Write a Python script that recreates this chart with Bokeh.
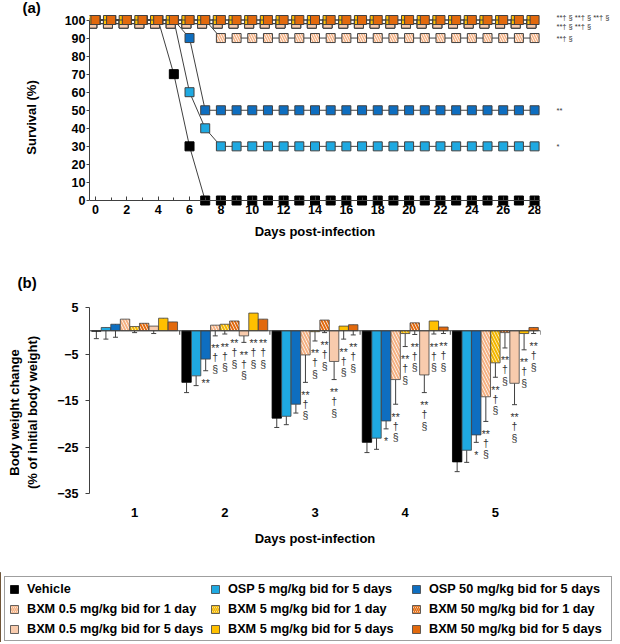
import math
from bokeh.plotting import figure
from bokeh.layouts import column, row
from bokeh.models import (ColumnDataSource, FixedTicker, Whisker, TeeHead, LinearAxis,
                          Legend, LegendItem, Range1d, Span)
from bokeh.transform import dodge
from bokeh.embed import file_html
from bokeh.resources import INLINE

# ---------------- data ----------------
series_labels = [
    "Vehicle",
    "OSP 5 mg/kg bid for 5 days",
    "OSP 50 mg/kg bid for 5 days",
    "BXM 0.5 mg/kg bid for 1 day",
    "BXM 5 mg/kg bid for 1 day",
    "BXM 50 mg/kg bid for 1 day",
    "BXM 0.5 mg/kg bid for 5 days",
    "BXM 5 mg/kg bid for 5 days",
    "BXM 50 mg/kg bid for 5 days",
]

# (a) survival (%) by day post-infection
surv_days = [0, 1, 2, 3, 4, 5, 6, 7, 8, 9, 10, 11, 12, 13, 14, 15, 16, 17, 18, 19,
             20, 21, 22, 23, 24, 25, 26, 27, 28]
surv_ticks = [0, 2, 4, 6, 8, 10, 12, 14, 16, 18, 20, 22, 24, 26, 28]
surv_yticks = [0, 10, 20, 30, 40, 50, 60, 70, 80, 90, 100]
surv_vehicle = [100, 100, 100, 100, 100, 70, 30, 0, 0, 0, 0, 0, 0, 0, 0, 0, 0, 0, 0, 0,
                0, 0, 0, 0, 0, 0, 0, 0, 0]
surv_osp5 = [100, 100, 100, 100, 100, 100, 60, 40, 30, 30, 30, 30, 30, 30, 30, 30, 30, 30,
             30, 30, 30, 30, 30, 30, 30, 30, 30, 30, 30]
surv_osp50 = [100, 100, 100, 100, 100, 100, 90, 50, 50, 50, 50, 50, 50, 50, 50, 50, 50, 50,
              50, 50, 50, 50, 50, 50, 50, 50, 50, 50, 50]
surv_bxm05_1d = [100, 100, 100, 100, 100, 100, 100, 100, 90, 90, 90, 90, 90, 90, 90, 90, 90,
                 90, 90, 90, 90, 90, 90, 90, 90, 90, 90, 90, 90]
surv_bxm5_1d = [100, 100, 100, 100, 100, 100, 100, 100, 100, 100, 100, 100, 100, 100, 100,
                100, 100, 100, 100, 100, 100, 100, 100, 100, 100, 100, 100, 100, 100]
surv_bxm50_1d = [100, 100, 100, 100, 100, 100, 100, 100, 100, 100, 100, 100, 100, 100, 100,
                 100, 100, 100, 100, 100, 100, 100, 100, 100, 100, 100, 100, 100, 100]
surv_bxm05_5d = [100, 100, 100, 100, 100, 100, 100, 100, 100, 100, 100, 100, 100, 100, 100,
                 100, 100, 100, 100, 100, 100, 100, 100, 100, 100, 100, 100, 100, 100]
surv_bxm5_5d = [100, 100, 100, 100, 100, 100, 100, 100, 100, 100, 100, 100, 100, 100, 100,
                100, 100, 100, 100, 100, 100, 100, 100, 100, 100, 100, 100, 100, 100]
surv_bxm50_5d = [100, 100, 100, 100, 100, 100, 100, 100, 100, 100, 100, 100, 100, 100, 100,
                 100, 100, 100, 100, 100, 100, 100, 100, 100, 100, 100, 100, 100, 100]
surv_sig = ["", "*", "**", "**\u2020 \u00a7", "**\u2020 \u00a7", "**\u2020 \u00a7",
            "**\u2020 \u00a7", "**\u2020 \u00a7", "**\u2020 \u00a7"]

# (b) body weight change (% of initial) by day post-infection
bw_days = [1, 2, 3, 4, 5]
bw_yticks = [5, -5, -15, -25, -35]
bw_vehicle = [-0.1, -11.1, -18.8, -24.0, -28.2]
bw_osp5 = [0.7, -9.7, -18.4, -23.1, -25.7]
bw_osp50 = [1.4, -6.1, -15.8, -19.4, -22.4]
bw_bxm05_1d = [2.5, 1.2, -5.2, -10.5, -14.2]
bw_bxm5_1d = [0.9, 1.4, -0.2, -0.6, -6.9]
bw_bxm50_1d = [1.6, 2.1, 2.3, 1.7, -0.4]
bw_bxm05_5d = [1.0, -1.1, -6.6, -9.5, -11.3]
bw_bxm5_5d = [2.7, 3.8, 1.0, 2.1, -0.6]
bw_bxm50_5d = [1.9, 2.5, 1.3, 0.8, 0.7]

bw_vehicle_sd = [1.6, 2.2, 2.0, 2.2, 2.1]
bw_osp5_sd = [2.5, 2.1, 1.8, 2.4, 2.6]
bw_osp50_sd = [2.8, 2.5, 1.9, 1.7, 1.6]
bw_bxm05_1d_sd = [1.5, 2.3, 5.9, 5.3, 5.3]
bw_bxm5_1d_sd = [1.3, 2.1, 2.0, 2.8, 3.1]
bw_bxm50_1d_sd = [1.0, 1.5, 2.7, 2.5, 3.3]
bw_bxm05_5d_sd = [1.6, 1.4, 3.9, 3.8, 4.6]
bw_bxm5_5d_sd = [1.2, 1.5, 2.8, 2.8, 3.5]
bw_bxm50_5d_sd = [1.2, 1.5, 2.2, 1.4, 1.3]

S = "**\u2020\u00a7"
bw_sig_vehicle = ["", "", "", "", ""]
bw_sig_osp5 = ["", "", "", "", ""]
bw_sig_osp50 = ["", "**", "", "*", "*"]
bw_sig_bxm05_1d = ["", S, S, S, S]
bw_sig_bxm5_1d = ["", S, S, S, S]
bw_sig_bxm50_1d = ["", S, S, S, S]
bw_sig_bxm05_5d = ["", S, S, S, S]
bw_sig_bxm5_5d = ["", S, S, S, S]
bw_sig_bxm50_5d = ["", S, S, S, S]

surv_series = [surv_vehicle, surv_osp5, surv_osp50, surv_bxm05_1d, surv_bxm5_1d,
               surv_bxm50_1d, surv_bxm05_5d, surv_bxm5_5d, surv_bxm50_5d]
bw_series = [bw_vehicle, bw_osp5, bw_osp50, bw_bxm05_1d, bw_bxm5_1d, bw_bxm50_1d,
             bw_bxm05_5d, bw_bxm5_5d, bw_bxm50_5d]
bw_sds = [bw_vehicle_sd, bw_osp5_sd, bw_osp50_sd, bw_bxm05_1d_sd, bw_bxm5_1d_sd,
          bw_bxm50_1d_sd, bw_bxm05_5d_sd, bw_bxm5_5d_sd, bw_bxm50_5d_sd]
bw_sigs = [bw_sig_vehicle, bw_sig_osp5, bw_sig_osp50, bw_sig_bxm05_1d, bw_sig_bxm5_1d,
           bw_sig_bxm50_1d, bw_sig_bxm05_5d, bw_sig_bxm5_5d, bw_sig_bxm50_5d]

# ---------------- style / layout ----------------
FONT = "Liberation Sans"
AX = "#404040"
fills = ["#000000", "#1FA9E1", "#0E6EC0", "#FFFFFF", "#FFF6D5", "#FFFFFF",
         "#F8CBAD", "#FFC000", "#E2690D"]
hatches = [None, None, None, "\\", "\\", "\\", None, None, None]
hatch_cols = ["#000000", "#000000", "#000000", "#F4B183", "#F2B600", "#E2690D",
              "#000000", "#000000", "#000000"]
outline = ["#000000", AX, AX, AX, AX, AX, AX, AX, AX]
mk_dodge = [(0, 0), (0, 0), (0, 0), (0, 0), (-0.2, -2.0), (-0.2, -2.0), (-0.2, -2.0),
            (-0.2, 0), (0, 0)]
PW = 620


def style_axis(ax, size="12.5px"):
    ax.axis_line_color = AX
    ax.major_tick_line_color = AX
    ax.minor_tick_line_color = None
    ax.major_label_text_font = FONT
    ax.major_label_text_font_style = "bold"
    ax.major_label_text_font_size = size
    ax.major_label_text_color = "#000000"
    ax.axis_label_text_font = FONT
    ax.axis_label_text_font_style = "bold"
    ax.axis_label_text_font_size = "13px"
    ax.axis_label_text_color = "#000000"


def style_title(t, text, offset, standoff):
    t.text = text
    t.align = "left"
    t.vertical_align = "top"
    t.offset = offset
    t.standoff = standoff
    t.text_font = FONT
    t.text_font_style = "bold"
    t.text_font_size = "15px"
    t.text_color = "#000000"


# ============ (a) survival ============
A_L, A_R, A_T, A_B = 84, 79, 14, 60     # borders
A_H = 280
B_START = 264                           # page y where panel (b) begins
A_X0, A_PPX = 90, 15.893                # page x of day 0, px/day
A_Y100, A_Y0 = 19.5, 200                # page y of 100 % and 0 %
A_PPY = (A_Y0 - A_Y100) / 100
a_frame_bottom = A_H - A_B
a_xr = ((A_L - A_X0) / A_PPX, (PW - A_R - A_X0) / A_PPX)
a_yr = (-(a_frame_bottom - A_Y0) / A_PPY, (A_Y0 - A_T) / A_PPY)

pa = figure(width=PW, height=A_H, min_border_left=A_L, min_border_right=A_R,
            min_border_top=A_T, min_border_bottom=A_B,
            x_range=Range1d(*a_xr), y_range=Range1d(*a_yr),
            output_backend="svg", toolbar_location=None)
pa.margin = (0, 0, -(A_H - B_START), 0)
pa.grid.visible = False
pa.outline_line_color = None
style_title(pa.title, "(a)", 17 - A_L, -6)

# title-only axis under the plot area
xt = pa.xaxis[0]
style_axis(xt)
xt.ticker = FixedTicker(ticks=[])
xt.axis_line_color = None
xt.major_tick_out = 0
xt.major_tick_in = 0
xt.major_label_standoff = 0
xt.axis_label = "Days post-infection"
xt.axis_label_standoff = 3

# x axis through 0 %
xa = LinearAxis(fixed_location=0, ticker=FixedTicker(ticks=surv_ticks, minor_ticks=surv_days))
style_axis(xa)
xa.minor_tick_line_color = AX
xa.major_tick_in = 4
xa.major_tick_out = 0
xa.minor_tick_in = 3
xa.minor_tick_out = 0
xa.major_label_standoff = 4
pa.add_layout(xa, "below")

ya = pa.yaxis[0]
style_axis(ya)
ya.bounds = (0, 100)
ya.ticker = FixedTicker(ticks=surv_yticks)
ya.major_tick_in = 0
ya.major_tick_out = 3
ya.major_label_standoff = 1
ya.axis_label = "Survival (%)"
ya.axis_label_standoff = 23

for i, ys in enumerate(surv_series):
    src = ColumnDataSource(dict(x=surv_days, y=ys))
    dx, dy = mk_dodge[i]
    xs = dodge("x", dx)
    yv = dodge("y", dy)
    pa.line(x=xs, y=yv, source=src, line_color=AX, line_width=1)
    pa.scatter(x=xs, y=yv, source=src, marker="square", size=9,
               fill_color=fills[i], line_color=outline[i], line_width=1,
               hatch_pattern=hatches[i], hatch_color=hatch_cols[i],
               hatch_scale=5, hatch_weight=1.5)

# significance marks at the end of each curve: tick labels of a right-hand axis
groups = {}
for i, s in enumerate(surv_series):
    if surv_sig[i]:
        groups.setdefault(s[-1], []).append(surv_sig[i])
sig_ticks, sig_labels = [], {}
for v, labs in groups.items():
    if len(labs) == 1:
        t = round(float(v), 2)
        sig_ticks.append(t)
        sig_labels[t] = labs[0]
    else:
        for r in range(0, len(labs), 3):
            t = round(v + (2.5 - 9 * (r // 3)) / A_PPY, 2)
            sig_ticks.append(t)
            sig_labels[t] = "   ".join(labs[r:r + 3])
ys_ax = LinearAxis(ticker=FixedTicker(ticks=sig_ticks), major_label_overrides=sig_labels)
ys_ax.axis_line_color = None
ys_ax.major_tick_line_color = None
ys_ax.minor_tick_line_color = None
ys_ax.major_label_standoff = 10
ys_ax.major_label_text_font = FONT
ys_ax.major_label_text_font_size = "7.5px"
ys_ax.major_label_text_color = "#333333"
pa.add_layout(ys_ax, "right")

# ============ (b) body weight ============
B_L, B_R, B_T, B_B = 89, 71, 36, 48
b_frame_h = 224
B_H = B_T + b_frame_h + B_B
B_PPY = 4.65
B_Y5 = 307 - B_START                   # canvas y of +5 %
b_yr = (5 - (B_T + b_frame_h - B_Y5) / B_PPY, 5 + (B_Y5 - B_T) / B_PPY)
b_xr = (bw_days[0] - 0.5, bw_days[-1] + 0.5)
b_axis_y = 5 - (500 - 307) / B_PPY     # level of the day labels

pb = figure(width=PW, height=B_H, min_border_left=B_L, min_border_right=B_R,
            min_border_top=B_T, min_border_bottom=B_B,
            x_range=Range1d(*b_xr), y_range=Range1d(*b_yr),
            output_backend="svg", toolbar_location=None)
pb.grid.visible = False
pb.outline_line_color = None
style_title(pb.title, "(b)", 17 - B_L, 16)

xbt = pb.xaxis[0]
style_axis(xbt)
xbt.ticker = FixedTicker(ticks=[])
xbt.axis_line_color = None
xbt.major_tick_out = 0
xbt.major_tick_in = 0
xbt.major_label_standoff = 0
xbt.axis_label = "Days post-infection"
xbt.axis_label_standoff = 6

xb = LinearAxis(fixed_location=b_axis_y, ticker=FixedTicker(ticks=bw_days))
style_axis(xb, "13px")
xb.axis_line_color = None
xb.major_tick_line_color = None
xb.major_label_standoff = 1
pb.add_layout(xb, "below")

yb = pb.yaxis[0]
style_axis(yb)
yb.ticker = FixedTicker(ticks=bw_yticks)
yb.bounds = (bw_yticks[-1], bw_yticks[0])
yb.major_tick_in = 0
yb.major_tick_out = 4
yb.major_label_standoff = 7
yb.axis_label = "Body weight change\n(% of initial body weight)"
yb.axis_label_standoff = 14

pb.add_layout(Span(location=0, dimension="width", line_color=AX, line_width=1))
bounds_x = [d - 0.5 for d in bw_days] + [bw_days[-1] + 0.5]
pb.segment(x0=bounds_x, y0=[0] * len(bounds_x), x1=bounds_x,
           y1=[-4 / B_PPY] * len(bounds_x), line_color=AX, line_width=1)

bar_w = 0.104
step = 0.106
nser = len(bw_series)
sx, sy, st, syo = [], [], [], []
for i, vals in enumerate(bw_series):
    off = (i - (nser - 1) / 2) * step
    xs = [d + off for d in bw_days]
    lower = [v - e for v, e in zip(vals, bw_sds[i])]
    src = ColumnDataSource(dict(x=xs, top=vals, lower=lower))
    pb.vbar(x="x", top="top", bottom=0, width=bar_w, source=src,
            fill_color=fills[i], line_color=outline[i], line_width=0.8,
            hatch_pattern=hatches[i], hatch_color=hatch_cols[i],
            hatch_scale=6, hatch_weight=2)
    w = Whisker(source=src, base="x", upper="top", lower="lower", dimension="height",
                line_color=AX, line_width=1, upper_head=None,
                lower_head=TeeHead(size=5, line_color=AX, line_width=1), level="underlay")
    pb.add_layout(w)
    for j, sig in enumerate(bw_sigs[i]):
        if not sig:
            continue
        base = min(lower[j], 0)
        stars = sig.rstrip("\u2020\u00a7")
        rows = []
        if stars:
            rows.append((stars, 12.5))
        if "\u2020" in sig:
            rows.append(("\u2020", 21.5))
        if "\u00a7" in sig:
            rows.append(("\u00a7", 33.0))
        for t, yo in rows:
            sx.append(xs[j]); sy.append(base); st.append(t); syo.append(yo)

pb.text(x=sx, y=sy, text=st, y_offset=syo, text_font={"value": FONT},
        text_font_size="10.5px", text_align="center", text_baseline="alphabetic",
        text_color="#333333")

# ============ legend ============
pl = figure(width=PW, height=70, min_border=0, x_axis_type=None, y_axis_type=None,
            x_range=(0, 1), y_range=(0, 1), output_backend="svg", toolbar_location=None)
pl.grid.visible = False
pl.outline_line_color = None
dummies = []
for i in range(nser):
    r = pl.vbar(x=[-100], top=bw_series[i][:1], width=0.5, fill_color=fills[i],
                line_color=outline[i], line_width=0.8, hatch_pattern=hatches[i],
                hatch_color=hatch_cols[i], hatch_scale=4, hatch_weight=1.5)
    dummies.append(r)
items = [LegendItem(label=series_labels[k], renderers=[dummies[k]]) for k in range(nser)]
leg = Legend(items=items, location=(4, 1), orientation="horizontal", ncols=3,
             padding=4, margin=0, spacing=5, label_width=178, label_height=15,
             glyph_height=10, glyph_width=10, label_standoff=8,
             border_line_color=AX, border_line_width=1, background_fill_color="white",
             label_text_font=FONT, label_text_font_style="bold",
             label_text_font_size="12.7px", label_text_color="#000000")
pl.add_layout(leg)

layout = column(pa, pb, row(pl))
open("out.html", "w").write(file_html(layout, INLINE))
